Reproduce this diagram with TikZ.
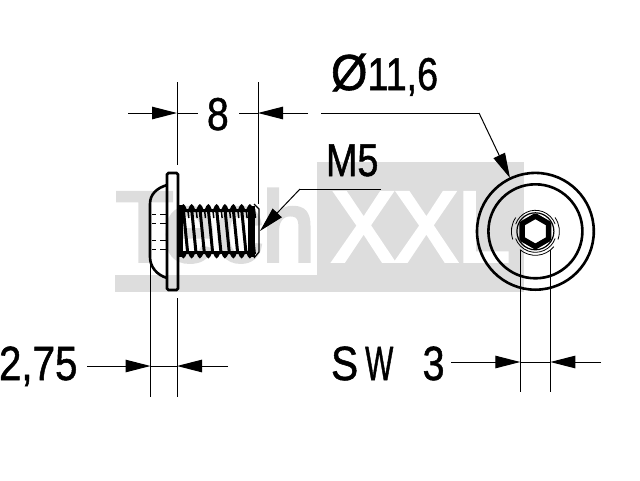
\documentclass[tikz,border=0pt]{standalone}
\usepackage{graphicx}
\usepackage{fontspec}
\setmainfont{Liberation Sans}
\newfontfamily\isof[RawFeature={embolden=1.2}]{Liberation Sans}
\newfontfamily\wmf[RawFeature={embolden=4}]{Liberation Sans}
\usetikzlibrary{arrows.meta}
\definecolor{wm}{HTML}{DDDDDD}
\tikzset{
  x=1pt,y=-1pt,
  dimline/.style={line width=1pt,black},
  headline/.style={line width=1pt,black,-{Triangle[length=25pt,width=12.5pt]}},
  extline/.style={line width=1pt,black},
  heavy/.style={line width=2.6pt,black},
  thin part/.style={line width=0.8pt,black},
  label/.style={anchor=base west,inner sep=0pt,outer sep=0pt,font=\isof\fontsize{46}{46}\selectfont},
  mark text/.style={anchor=base west,inner sep=0pt,outer sep=0pt,font=\wmf\fontsize{99}{99}\selectfont},
}
\begin{document}
\begin{tikzpicture}
\useasboundingbox (0,0) rectangle (640,480);
% watermark
\fill[wm] (115,275) rectangle (317,292);
\fill[wm] (317,162) rectangle (524,292);
\node[mark text,text=wm,xscale=.95] (wmtech) at (116,261) {Tech};
\node[mark text,text=white,xscale=.95] (wmxxl) at (332,261) {XXL};
% coordinates
\coordinate (a8o) at (128,113); \coordinate (a8t) at (177,113); \coordinate (a8e) at (198,113);
\coordinate (b8e) at (239,113); \coordinate (b8t) at (258,113); \coordinate (b8o) at (308,113);
\coordinate (ld0) at (321,113); \coordinate (ld1) at (479,113); \coordinate (ldt) at (510,178);
\coordinate (m0) at (381,189); \coordinate (m1) at (300,189); \coordinate (mt) at (260,231);
\coordinate (c0) at (87,366); \coordinate (ct) at (150.5,366); \coordinate (ce) at (177,366);
\coordinate (c1) at (228,366);
\coordinate (s0) at (451,362); \coordinate (st) at (520.3,362); \coordinate (se) at (550.3,362);
\coordinate (s1) at (601,362);
\coordinate (cc) at (535.4,231.3);
% extension lines
\draw[extline] (177,82) -- (177,165);
\draw[extline] (258,82) -- (258,204);
\draw[extline] (150.5,258) -- (150.5,397);
\draw[extline] (177,298) -- (177,397);
\draw[extline] (520.3,250) -- (520.3,392);
\draw[extline] (550.3,250) -- (550.3,392);
% dimension lines
\draw[headline] (a8o) -- (a8t);
\draw[dimline] (a8t) -- (a8e);
\draw[dimline] (b8e) -- (b8t);
\draw[headline] (b8o) -- (b8t);
\draw[dimline] (ld0) -- (ld1);
\draw[headline] (ld1) -- (ldt);
\draw[dimline] (m0) -- (m1);
\draw[headline] (m1) -- (mt);
\draw[headline] (c0) -- (ct);
\draw[dimline] (ct) -- (ce);
\draw[headline] (c1) -- (ce);
\draw[headline] (s0) -- (st);
\draw[dimline] (st) -- (se);
\draw[headline] (s1) -- (se);
% bolt: dome and flange
\draw[heavy,rounded corners=1.5pt] (167,173) rectangle (178,290);
\draw[heavy] (167,185) .. controls (157,188) and (150,194) .. (150,204) -- (150,257) .. controls (150,267) and (157,275) .. (167,278);
\foreach \yy in {214,223,240,249}{
  \draw[thin part] (152,\yy) -- (156,\yy);
  \draw[thin part] (160,\yy) -- (166,\yy);
}
% bolt: thread
\draw[line width=4.5pt] (180.5,205) -- (180.5,257);
\foreach \i in {0,...,8}{
  \pgfmathsetmacro{\xa}{183.3+8.33*\i}
  \fill[black] (\xa-4.6,212) -- (\xa-2,206) -- (\xa,204) -- (\xa+2,206) -- (\xa+4.6,212) -- cycle;
  \fill[black] (\xa-4.6,251) -- (\xa-2,256.5) -- (\xa,258.5) -- (\xa+2,256.5) -- (\xa+4.6,251) -- cycle;
  \draw[line width=3pt] (\xa,209) -- (\xa+4.5,254);
  \draw[line width=1.5pt] (\xa+4.5,209) -- (\xa+5.5,218);
}
\draw[line width=2.5pt] (179,210) -- (255,210);
\draw[line width=2.5pt] (179,252.5) -- (255,252.5);
\fill[black] (248,206) rectangle (255,257);
\draw[line width=1.2pt] (254,204) -- (259,209) -- (259,252) -- (254,258);
% end view
\draw[line width=2.6pt] (cc) circle[radius=58.4];
\draw[line width=2.6pt] (cc) circle[radius=47];
\draw[line width=5.5pt,line join=round] (535.4,216) -- (548.6,223.6) -- (548.6,239) -- (535.4,246.6) -- (522.2,239) -- (522.2,223.6) -- cycle;
\draw[line width=1.2pt] (cc) circle[radius=18.5];
\draw[line width=.8pt] (535.4,231.3) ++(20:21) arc[start angle=20,end angle=160,radius=21];
\draw[line width=.8pt] (535.4,231.3) ++(200:21) arc[start angle=200,end angle=340,radius=21];
\draw[line width=.8pt] (535.4,231.3) ++(40:24) arc[start angle=40,end angle=130,radius=24];
\draw[line width=.8pt] (535.4,231.3) ++(160:24) arc[start angle=160,end angle=215,radius=24];
\draw[line width=.8pt] (535.4,231.3) ++(-35:24) arc[start angle=-35,end angle=20,radius=24];
% labels
\node[label,xscale=.85] (t8) at (207,130) {8};
\node[label] (tdia) at (331,90) {\scalebox{1.02}[1.1]{Ø}\scalebox{.82}[1]{11,6}};
\node[label,xscale=.82] (tm5) at (326,176) {M5};
\node[label,xscale=.84,font=\isof\fontsize{48}{48}\selectfont] (t275) at (-1,380) {2,75};
\node[label,font=\isof\fontsize{48}{48}\selectfont] (tsw) at (331,380) {\scalebox{.85}[1]{S}\kern7pt \scalebox{.62}[1]{W}\ \kern16pt \scalebox{.82}[1]{3}};
\end{tikzpicture}
\end{document}
